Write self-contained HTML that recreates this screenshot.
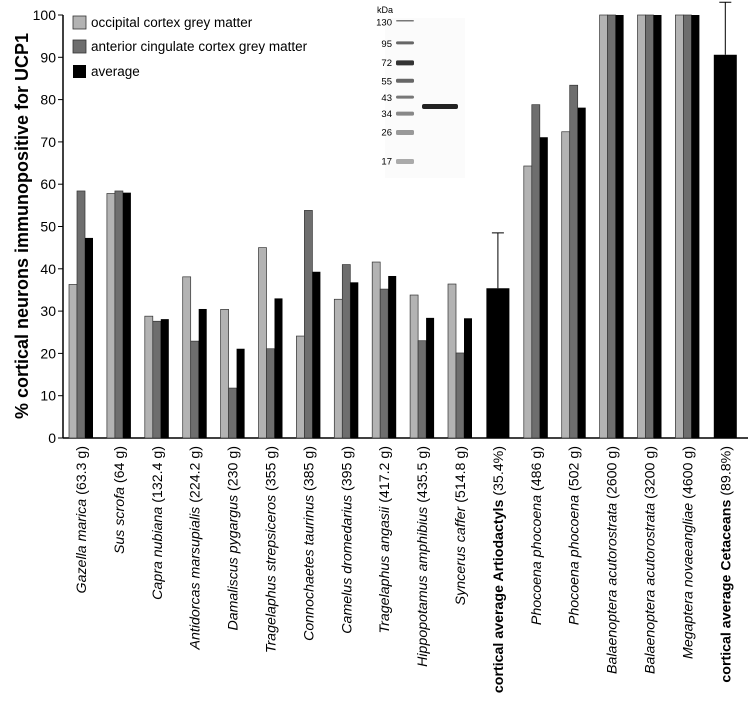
<!DOCTYPE html>
<html><head><meta charset="utf-8"><style>
body{margin:0;background:#fff;}
svg text{font-family:"Liberation Sans",Arial,sans-serif;}
</style></head><body>
<svg id="chart" width="749" height="702" xmlns="http://www.w3.org/2000/svg">
<g id="gel">
  <rect x="385" y="18" width="80" height="160" fill="#fbfbfb"/>
  <text x="377" y="13" font-size="9">kDa</text>
</g>
<g id="axes"></g>
<g id="bars"></g>
<g id="labels"></g>
<g id="legend">
  <rect x="73" y="16" width="13" height="13" fill="#b3b3b3" stroke="#333" stroke-width="0.8"/>
  <text x="91" y="27" font-size="13.5">occipital cortex grey matter</text>
  <rect x="73" y="40" width="13" height="13" fill="#6e6e6e" stroke="#333" stroke-width="0.8"/>
  <text x="91" y="51" font-size="13.5">anterior cingulate cortex grey matter</text>
  <rect x="73" y="65" width="13" height="13" fill="#000"/>
  <text x="91" y="76" font-size="13.5">average</text>
</g>
<text transform="translate(28,226) rotate(-90)" text-anchor="middle" font-size="18" font-weight="bold">% cortical neurons immunopositive for UCP1</text>
</svg>
<script>
const species = ["Gazella marica","Sus scrofa","Capra nubiana","Antidorcas marsupialis","Damaliscus pygargus","Tragelaphus strepsiceros","Connochaetes taurinus","Camelus dromedarius","Tragelaphus angasii","Hippopotamus amphibius","Syncerus caffer","cortical average Artiodactyls","Phocoena phocoena","Phocoena phocoena","Balaenoptera acutorostrata","Balaenoptera acutorostrata","Megaptera novaeangliae","cortical average Cetaceans"];
const masses = ["(63.3 g)","(64 g)","(132.4 g)","(224.2 g)","(230 g)","(355 g)","(385 g)","(395 g)","(417.2 g)","(435.5 g)","(514.8 g)","(35.4%)","(486 g)","(502 g)","(2600 g)","(3200 g)","(4600 g)","(89.8%)"];
const occipital = [36.3,57.8,28.8,38.1,30.4,45,24.1,32.8,41.6,33.8,36.4,null,64.3,72.4,100,100,100,null];
const anterior = [58.4,58.4,27.6,22.9,11.8,21.1,53.8,41,35.2,23,20.1,null,78.8,83.4,100,100,100,null];
const average = [47.3,58,28.1,30.5,21.1,33,39.3,36.8,38.3,28.4,28.3,35.4,71.1,78.1,100,100,100,90.6];
const errorTop = [null,null,null,null,null,null,null,null,null,null,null,48.5,null,null,null,null,null,103];
const yTicks = [0,10,20,30,40,50,60,70,80,90,100];
const gelMarkers = ["130","95","72","55","43","34","26","17"];
const gelKda = [130,95,72,55,43,34,26,17];

const NS="http://www.w3.org/2000/svg";
const X0=63, Y0=438, Y100=15, SP=37.9, C0=81, BW=8;
const y = v => Y0 - (Y0-Y100)*v/100;
const xc = i => C0 + i*SP;
function mk(tag, attrs, parent){const e=document.createElementNS(NS,tag);for(const k in attrs)e.setAttribute(k,attrs[k]);parent.appendChild(e);return e;}

const axes=document.getElementById('axes');
let l=mk('line',{x1:X0,y1:Y100,x2:X0,y2:Y0,stroke:'#000','stroke-width':1.5},axes);


l=mk('line',{x1:X0,y1:Y0,x2:748,y2:Y0,stroke:'#000','stroke-width':1.5},axes);


yTicks.forEach(t=>{
  const tk=mk('line',{x1:X0-5,y1:y(t),x2:X0,y2:y(t),stroke:'#000','stroke-width':1},axes);
  
  
  const tx=mk('text',{x:X0-7,y:y(t)+5,'text-anchor':'end','font-size':14},axes);
  tx.textContent=t;
  
  
});

const bars=document.getElementById('bars');
species.forEach((s,i)=>{
  const c=xc(i);
  if(occipital[i]===null){
    const r=mk('rect',{x:c-11.5,y:y(average[i]),width:23,height:Y0-y(average[i]),fill:'#000'},bars);
    
    
  } else {
    const r1=mk('rect',{x:c-12,y:y(occipital[i]),width:BW,height:Y0-y(occipital[i]),fill:'#b3b3b3',stroke:'#333','stroke-width':0.7},bars);
    
    
    const r2=mk('rect',{x:c-4,y:y(anterior[i]),width:BW,height:Y0-y(anterior[i]),fill:'#6e6e6e',stroke:'#333','stroke-width':0.7},bars);
    
    
    const r3=mk('rect',{x:c+4,y:y(average[i]),width:BW,height:Y0-y(average[i]),fill:'#000'},bars);
    
    
  }
  if(errorTop[i]!==null){
    const e=mk('path',{d:`M${c},${y(average[i])}V${y(errorTop[i])}M${c-6},${y(errorTop[i])}H${c+6}`,stroke:'#000','stroke-width':1,fill:'none'},bars);
    
    
  }
});

const labels=document.getElementById('labels');
species.forEach((s,i)=>{
  const bold = s.startsWith('cortical');
  const t=mk('text',{transform:`translate(${xc(i)+5},446) rotate(-90)`,'text-anchor':'end','font-size':14.2},labels);
  
  
  const a=mk('tspan',bold?{'font-weight':'bold'}:{'font-style':'italic'},t);
  a.textContent=s;
  const b=mk('tspan',{},t);
  b.textContent=' '+masses[i];
});

const gel=document.getElementById('gel');
const gy = k => 22 + (Math.log(130)-Math.log(k))/(Math.log(130)-Math.log(17))*139;
gelMarkers.forEach((m,i)=>{
  const yy=gy(gelKda[i]);
  const t=mk('text',{x:392,y:yy+3.5,'text-anchor':'end','font-size':9.5},gel);
  t.textContent=m;
  
  
  const b=mk('rect',{x:396,y:yy-2,width:18,height:[1.5,3,5,4,3,4,5,5][i],rx:1.5,fill:['#777','#666','#333','#666','#777','#888','#999','#aaa'][i]},gel);
  
  
});
const ub=mk('rect',{x:422,y:104,width:36,height:5,rx:2,fill:'#222'},gel);


</script>
</body></html>
